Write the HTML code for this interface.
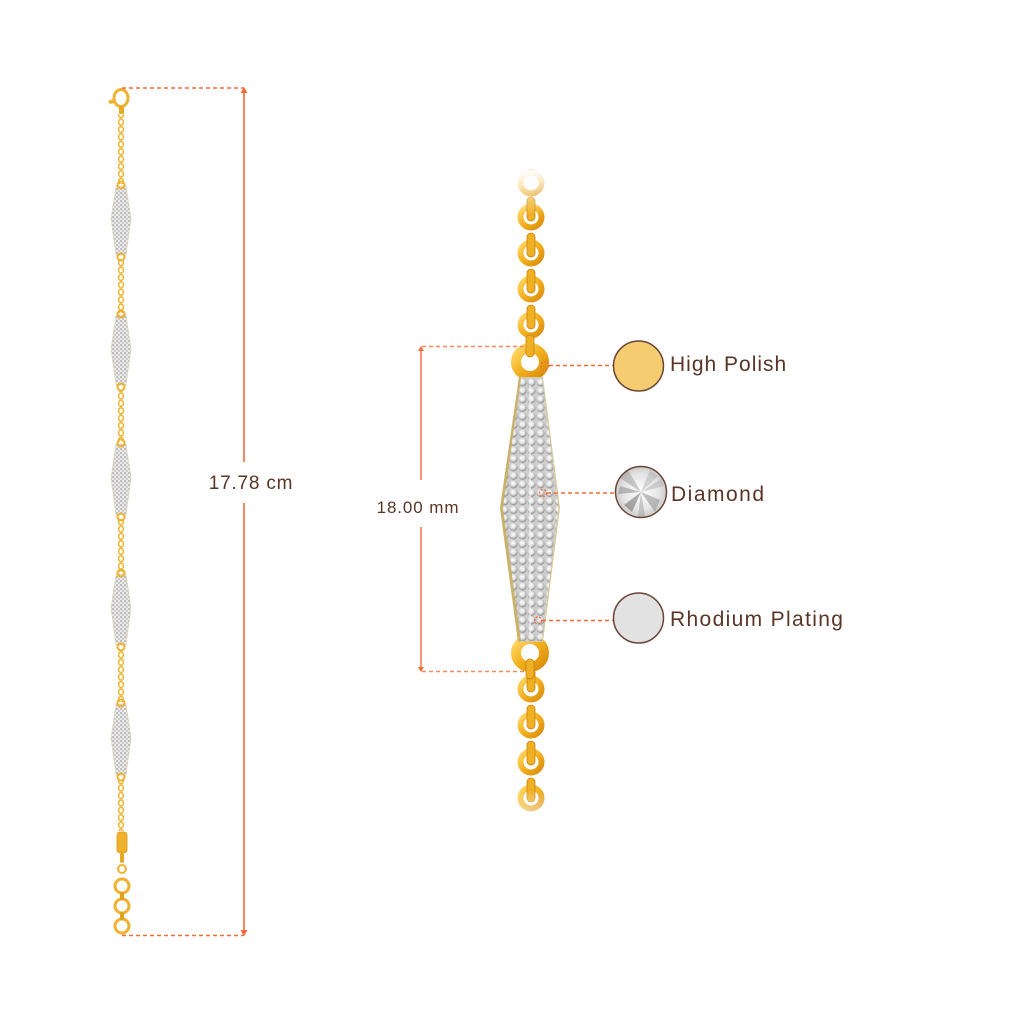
<!DOCTYPE html>
<html><head><meta charset="utf-8"><style>
html,body{margin:0;padding:0;background:#fff;}
svg{display:block;}
text{font-family:"Liberation Sans",sans-serif;fill:#5a3526;}
</style></head><body>
<svg width="1024" height="1024" viewBox="0 0 1024 1024" xmlns="http://www.w3.org/2000/svg">
<defs>
  <pattern id="chainS" x="118" y="0" width="6" height="7.4" patternUnits="userSpaceOnUse">
    <ellipse cx="3" cy="3.7" rx="2.4" ry="2.9" fill="none" stroke="#efb432" stroke-width="1.5"/>
  </pattern>
  <radialGradient id="stone" cx="0.45" cy="0.4" r="0.6">
    <stop offset="0" stop-color="#ffffff"/>
    <stop offset="0.5" stop-color="#e2e2e2"/>
    <stop offset="0.85" stop-color="#a8a8a8"/>
    <stop offset="1" stop-color="#7d7d7d"/>
  </radialGradient>
  <pattern id="paveS" x="0" y="0" width="4" height="4" patternUnits="userSpaceOnUse">
    <rect width="4" height="4" fill="#eeeeee"/>
    <circle cx="1" cy="1" r="1.2" fill="#bdbdbd"/>
    <circle cx="3" cy="3" r="1.2" fill="#c9c9c9"/>
  </pattern>
  <pattern id="paveL" x="500" y="378" width="9" height="8.5" patternUnits="userSpaceOnUse">
    <rect width="9" height="8.5" fill="#cfcfcf"/>
    <circle cx="4.5" cy="4.25" r="4.1" fill="url(#stone)"/>
  </pattern>
  <linearGradient id="gold" x1="0" y1="0" x2="1" y2="1">
    <stop offset="0" stop-color="#ffd866"/>
    <stop offset="0.5" stop-color="#f2b01e"/>
    <stop offset="1" stop-color="#d98d0c"/>
  </linearGradient>
  <linearGradient id="fadeTop" x1="0" y1="0" x2="0" y2="1">
    <stop offset="0" stop-color="#fff" stop-opacity="1"/>
    <stop offset="1" stop-color="#fff" stop-opacity="0"/>
  </linearGradient>
  <linearGradient id="fadeBot" x1="0" y1="0" x2="0" y2="1">
    <stop offset="0" stop-color="#fff" stop-opacity="0"/>
    <stop offset="1" stop-color="#fff" stop-opacity="1"/>
  </linearGradient>
  <radialGradient id="diaG" cx="0.5" cy="0.5" r="0.5">
    <stop offset="0" stop-color="#ffffff"/>
    <stop offset="0.7" stop-color="#e4e4e4"/>
    <stop offset="1" stop-color="#c9c9c9"/>
  </radialGradient>
  <clipPath id="diaClip"><circle cx="641" cy="492" r="25"/></clipPath>
</defs>

<!-- ================= LEFT BRACELET ================= -->
<ellipse cx="121" cy="98" rx="7" ry="8.5" fill="none" stroke="#efb230" stroke-width="3"/>
<path d="M113 99 L108 101 L110 104 L115 103 Z" fill="#efb230"/>
<rect x="119" y="106" width="5" height="8" rx="2" fill="#e9a821"/>
<rect x="118" y="114" width="6" height="70" fill="url(#chainS)"/>
<rect x="118" y="259" width="6" height="54" fill="url(#chainS)"/>
<rect x="118" y="389" width="6" height="53" fill="url(#chainS)"/>
<rect x="118" y="519" width="6" height="53" fill="url(#chainS)"/>
<rect x="118" y="649" width="6" height="53" fill="url(#chainS)"/>
<rect x="118" y="779" width="6" height="52" fill="url(#chainS)"/>

<g>
  <polygon points="116,186 126,186 131,219 126,255 116,255 111,219" fill="url(#paveS)" stroke="#ddd4b4" stroke-width="0.7"/>
  <circle cx="121" cy="185" r="3.5" fill="none" stroke="#efb230" stroke-width="2"/>
  <circle cx="121" cy="257" r="3.5" fill="none" stroke="#efb230" stroke-width="2"/>

  <polygon points="116,315 126,315 131,349 126,385 116,385 111,349" fill="url(#paveS)" stroke="#ddd4b4" stroke-width="0.7"/>
  <circle cx="121" cy="314" r="3.5" fill="none" stroke="#efb230" stroke-width="2"/>
  <circle cx="121" cy="387" r="3.5" fill="none" stroke="#efb230" stroke-width="2"/>

  <polygon points="116,444 126,444 131,478 126,515 116,515 111,478" fill="url(#paveS)" stroke="#ddd4b4" stroke-width="0.7"/>
  <circle cx="121" cy="443" r="3.5" fill="none" stroke="#efb230" stroke-width="2"/>
  <circle cx="121" cy="517" r="3.5" fill="none" stroke="#efb230" stroke-width="2"/>

  <polygon points="116,574 126,574 131,608 126,645 116,645 111,608" fill="url(#paveS)" stroke="#ddd4b4" stroke-width="0.7"/>
  <circle cx="121" cy="573" r="3.5" fill="none" stroke="#efb230" stroke-width="2"/>
  <circle cx="121" cy="647" r="3.5" fill="none" stroke="#efb230" stroke-width="2"/>

  <polygon points="116,704 126,704 131,738 126,775 116,775 111,738" fill="url(#paveS)" stroke="#ddd4b4" stroke-width="0.7"/>
  <circle cx="121" cy="703" r="3.5" fill="none" stroke="#efb230" stroke-width="2"/>
  <circle cx="121" cy="777" r="3.5" fill="none" stroke="#efb230" stroke-width="2"/>
</g>

<rect x="117" y="832" width="10" height="21" rx="3" fill="#f0b22c" stroke="#d99a18" stroke-width="0.8"/>
<rect x="120" y="853" width="4" height="10" rx="2" fill="#e9a821"/>
<circle cx="122" cy="869" r="4" fill="none" stroke="#efb230" stroke-width="2"/>
<circle cx="122" cy="886" r="7" fill="none" stroke="#efb230" stroke-width="3"/>
<circle cx="122" cy="906" r="7" fill="none" stroke="#efb230" stroke-width="3"/>
<circle cx="122" cy="926" r="7" fill="none" stroke="#efb230" stroke-width="3"/>
<rect x="120" y="892" width="4" height="8" rx="2" fill="#e0a020"/>
<rect x="120" y="912" width="4" height="8" rx="2" fill="#e0a020"/>

<!-- left dimension -->
<line x1="122" y1="88" x2="244" y2="88" stroke="#f26a36" stroke-width="1.6" stroke-dasharray="4,3"/>
<line x1="122" y1="935.5" x2="244" y2="935.5" stroke="#f26a36" stroke-width="1.6" stroke-dasharray="4,3"/>
<line x1="244" y1="90" x2="244" y2="462" stroke="#f26a36" stroke-width="1.6"/>
<line x1="244" y1="503" x2="244" y2="933" stroke="#f26a36" stroke-width="1.6"/>
<polygon points="244,87 240.5,93 247.5,93" fill="#f26a36"/>
<polygon points="244,936 240.5,930 247.5,930" fill="#f26a36"/>
<text x="251" y="489" font-size="19" text-anchor="middle" letter-spacing="0.8">17.78 cm</text>

<!-- ================= CENTER PENDANT ================= -->
<g fill="none" stroke="url(#gold)">
  <circle cx="531" cy="183" r="10.5" stroke-width="6"/>
  <circle cx="531" cy="217" r="10.5" stroke-width="6"/>
  <circle cx="531" cy="253" r="10.5" stroke-width="6"/>
  <circle cx="531" cy="289" r="10.5" stroke-width="6"/>
  <circle cx="531" cy="325" r="10.5" stroke-width="6"/>
  <circle cx="531" cy="689" r="10.5" stroke-width="6"/>
  <circle cx="531" cy="725" r="10.5" stroke-width="6"/>
  <circle cx="531" cy="762" r="10.5" stroke-width="6"/>
  <circle cx="531" cy="798" r="10.5" stroke-width="6"/>
</g>
<g fill="#f0b024" stroke="#c98410" stroke-width="0.8">
  <rect x="527" y="197" width="8" height="24" rx="4"/>
  <rect x="527" y="233" width="8" height="24" rx="4"/>
  <rect x="527" y="269" width="8" height="24" rx="4"/>
  <rect x="527" y="305" width="8" height="24" rx="4"/>
  <rect x="527" y="668" width="8" height="24" rx="4"/>
  <rect x="527" y="705" width="8" height="24" rx="4"/>
  <rect x="527" y="741" width="8" height="24" rx="4"/>
  <rect x="527" y="778" width="8" height="24" rx="4"/>
</g>
<circle cx="530" cy="362" r="14" fill="none" stroke="url(#gold)" stroke-width="10"/>
<circle cx="530" cy="653" r="14" fill="none" stroke="url(#gold)" stroke-width="10"/>
<rect x="526" y="335" width="8" height="22" rx="4" fill="#f0b024" stroke="#c98410" stroke-width="0.8"/>
<rect x="526" y="659" width="8" height="20" rx="4" fill="#f0b024" stroke="#c98410" stroke-width="0.8"/>
<rect x="505" y="170" width="55" height="45" fill="url(#fadeTop)"/>
<rect x="505" y="790" width="55" height="40" fill="url(#fadeBot)"/>

<!-- bar -->
<polygon points="519,377 543,377 560,508 543,642 518,642 500,508" fill="#d8cc9c"/>
<polygon points="520.5,378 542,378 558.5,508 542,641 519.5,641 502,508" fill="url(#paveL)"/>
<line x1="530" y1="385" x2="530" y2="635" stroke="#f2f2f2" stroke-width="1.2"/>
<polygon points="500,508 519,377 521,378 503,508 521,641 518,642" fill="#c7ab5c" opacity="0.8"/>

<!-- connectors -->
<g stroke="#f26a36" stroke-width="1.6" stroke-dasharray="4,3" fill="none">
  <line x1="549" y1="365.5" x2="613" y2="365.5"/>
  <line x1="547" y1="493" x2="615" y2="493"/>
  <line x1="542" y1="620.5" x2="613" y2="620.5"/>
</g>
<g stroke="#f26a36" stroke-width="1.2" stroke-dasharray="2,1.5" fill="none">
  <circle cx="545" cy="365.5" r="4"/>
  <circle cx="543" cy="493" r="3.5"/>
  <circle cx="538" cy="620.5" r="3.5"/>
</g>

<!-- center dimension -->
<line x1="422" y1="346.5" x2="527" y2="346.5" stroke="#f58a5e" stroke-width="1.6" stroke-dasharray="4,3"/>
<line x1="422" y1="671.5" x2="527" y2="671.5" stroke="#f58a5e" stroke-width="1.6" stroke-dasharray="4,3"/>
<line x1="421" y1="349" x2="421" y2="480" stroke="#f26a36" stroke-width="1.4"/>
<line x1="421" y1="527" x2="421" y2="669" stroke="#f26a36" stroke-width="1.4"/>
<polygon points="421,346 418,351 424,351" fill="#f26a36"/>
<polygon points="421,672 418,667 424,667" fill="#f26a36"/>
<text x="418" y="513" font-size="17" text-anchor="middle" letter-spacing="0.9">18.00 mm</text>

<!-- legend circles -->
<circle cx="638.5" cy="366" r="25" fill="#f5cd70" stroke="#6b4535" stroke-width="1.5"/>
<g clip-path="url(#diaClip)">
  <circle cx="641" cy="492" r="26" fill="url(#diaG)"/>
  <polygon points="641,492 620,478 628,470" fill="#9a9a9a" opacity="0.5"/>
  <polygon points="641,492 660,500 655,512" fill="#8a8a8a" opacity="0.5"/>
  <polygon points="641,492 632,512 624,505" fill="#555" opacity="0.45"/>
  <polygon points="641,492 650,470 658,476" fill="#b0b0b0" opacity="0.5"/>
  <polygon points="641,492 618,494 620,486" fill="#777" opacity="0.45"/>
  <polygon points="641,492 645,516 638,517" fill="#999" opacity="0.45"/>
  <polygon points="641,492 664,486 662,478" fill="#aaa" opacity="0.45"/>
</g>
<circle cx="641" cy="492" r="25.5" fill="none" stroke="#6b4535" stroke-width="1.5"/>
<circle cx="638.5" cy="618" r="25" fill="#e2e2e2" stroke="#6b4535" stroke-width="1.5"/>

<text x="670" y="371" font-size="21" letter-spacing="1">High Polish</text>
<text x="671" y="501" font-size="21" letter-spacing="1.5">Diamond</text>
<text x="670" y="626" font-size="21" letter-spacing="1.35">Rhodium Plating</text>
</svg>
</body></html>
